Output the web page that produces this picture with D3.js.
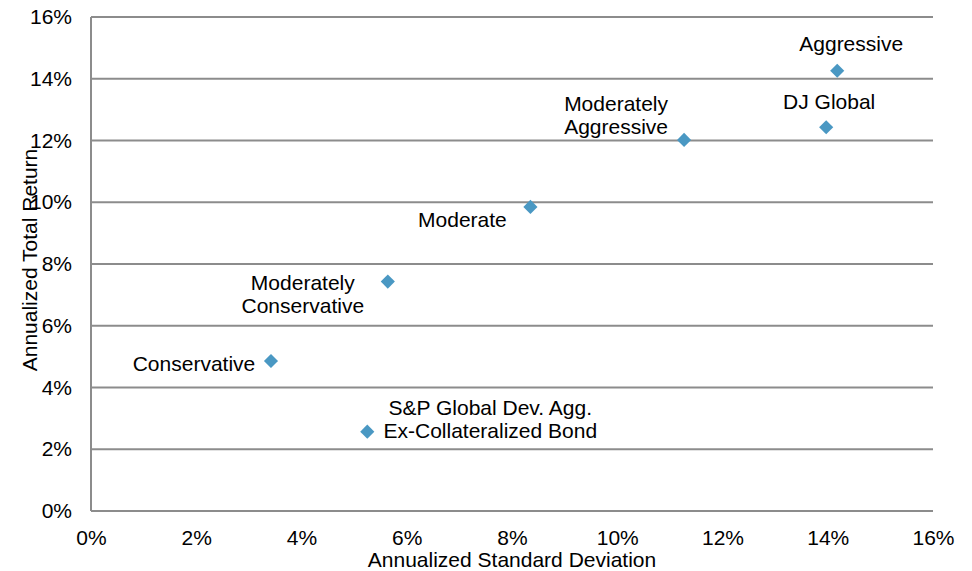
<!DOCTYPE html>
<html>
<head>
<meta charset="utf-8">
<script src="https://cdn.jsdelivr.net/npm/d3@7"></script>
<style>
  body { margin: 0; background: #fff; }
  text { font-family: "Liberation Sans", Arial, sans-serif; fill: #000; }
</style>
</head>
<body>
<div id="chart"></div>
<script>
// portfolios: annualized standard deviation vs annualized total return (%)
var names = ["Aggressive", "DJ Global", "Moderately Aggressive", "Moderate",
             "Moderately Conservative", "Conservative",
             "S&P Global Dev. Agg. Ex-Collateralized Bond"];
var stdDev = [14.18, 13.97, 11.27, 8.35, 5.64, 3.42, 5.25];
var totalReturn = [14.26, 12.43, 12.02, 9.85, 7.43, 4.86, 2.57];
var xTicks = [0, 2, 4, 6, 8, 10, 12, 14, 16];
var yTicks = [0, 2, 4, 6, 8, 10, 12, 14, 16];

// label lines and where they sit relative to the marker
var labelLines = [["Aggressive"], ["DJ Global"], ["Moderately", "Aggressive"], ["Moderate"],
                  ["Moderately", "Conservative"], ["Conservative"],
                  ["S&P Global Dev. Agg.", "Ex-Collateralized Bond"]];
var labelOffset = [[14, -27], [3, -26], [-68, -36], [-68, 13],
                   [-85, 1], [-77, 3], [123, -24]];

var fontSize = "21px";

var margin = {top: 17, right: 39, bottom: 60, left: 91},
    width = 972 - margin.left - margin.right,
    height = 571 - margin.top - margin.bottom;

var svg = d3.select("#chart")
    .append("svg")
    .attr("width", 972)
    .attr("height", 571);

var g = svg.append("g")
    .attr("transform", "translate(" + margin.left + "," + margin.top + ")");

var x = d3.scaleLinear().domain([0, 16]).range([0, width]);
var y = d3.scaleLinear().domain([0, 16]).range([height, 0]);

// horizontal gridlines
g.append("g")
    .attr("class", "grid")
    .selectAll("line")
    .data(yTicks)
    .enter().append("line")
    .attr("x1", 0)
    .attr("x2", width)
    .attr("y1", function(d) { return y(d); })
    .attr("y2", function(d) { return y(d); })
    .attr("stroke", "#8c8c8c")
    .attr("stroke-width", 2);

// left axis line
g.append("line")
    .attr("x1", 0).attr("x2", 0)
    .attr("y1", 0).attr("y2", height)
    .attr("stroke", "#8c8c8c")
    .attr("stroke-width", 2);

var yAxis = g.append("g")
    .call(d3.axisLeft(y).tickValues(yTicks).tickSize(0).tickPadding(19)
        .tickFormat(function(d) { return d + "%"; }));
yAxis.select(".domain").remove();
yAxis.selectAll("text").style("font-size", fontSize);

var xAxis = g.append("g")
    .attr("transform", "translate(0," + height + ")")
    .call(d3.axisBottom(x).tickValues(xTicks).tickSize(0).tickPadding(19)
        .tickFormat(function(d) { return d + "%"; }));
xAxis.select(".domain").remove();
xAxis.selectAll("text").style("font-size", fontSize);

// axis titles
svg.append("text")
    .attr("x", margin.left + width / 2)
    .attr("y", 567)
    .attr("text-anchor", "middle")
    .style("font-size", fontSize)
    .text("Annualized Standard Deviation");

svg.append("text")
    .attr("transform", "translate(37," + 260 + ") rotate(-90)")
    .attr("text-anchor", "middle")
    .style("font-size", fontSize)
    .text("Annualized Total Return");

// diamond markers
var diamond = d3.symbol().type(d3.symbolSquare).size(100);
var pts = names.map(function(n, i) { return {name: n, sd: stdDev[i], ret: totalReturn[i], i: i}; });

g.append("g")
    .selectAll("path")
    .data(pts)
    .enter().append("path")
    .attr("d", diamond)
    .attr("transform", function(d) {
        return "translate(" + x(d.sd) + "," + y(d.ret) + ") rotate(45)";
    })
    .attr("fill", "#4a98c3");

// labels
var labels = g.append("g")
    .selectAll("text")
    .data(pts)
    .enter().append("text")
    .attr("text-anchor", "middle")
    .style("font-size", fontSize)
    .attr("x", function(d) { return x(d.sd) + labelOffset[d.i][0]; })
    .attr("y", function(d) { return y(d.ret) + labelOffset[d.i][1]; });

labels.selectAll("tspan")
    .data(function(d) {
        return labelLines[d.i].map(function(t, k) {
            return {t: t, k: k, x: x(d.sd) + labelOffset[d.i][0]};
        });
    })
    .enter().append("tspan")
    .attr("x", function(d) { return d.x; })
    .attr("dy", function(d) { return d.k === 0 ? "0.35em" : "23px"; })
    .text(function(d) { return d.t; });
</script>
</body>
</html>
